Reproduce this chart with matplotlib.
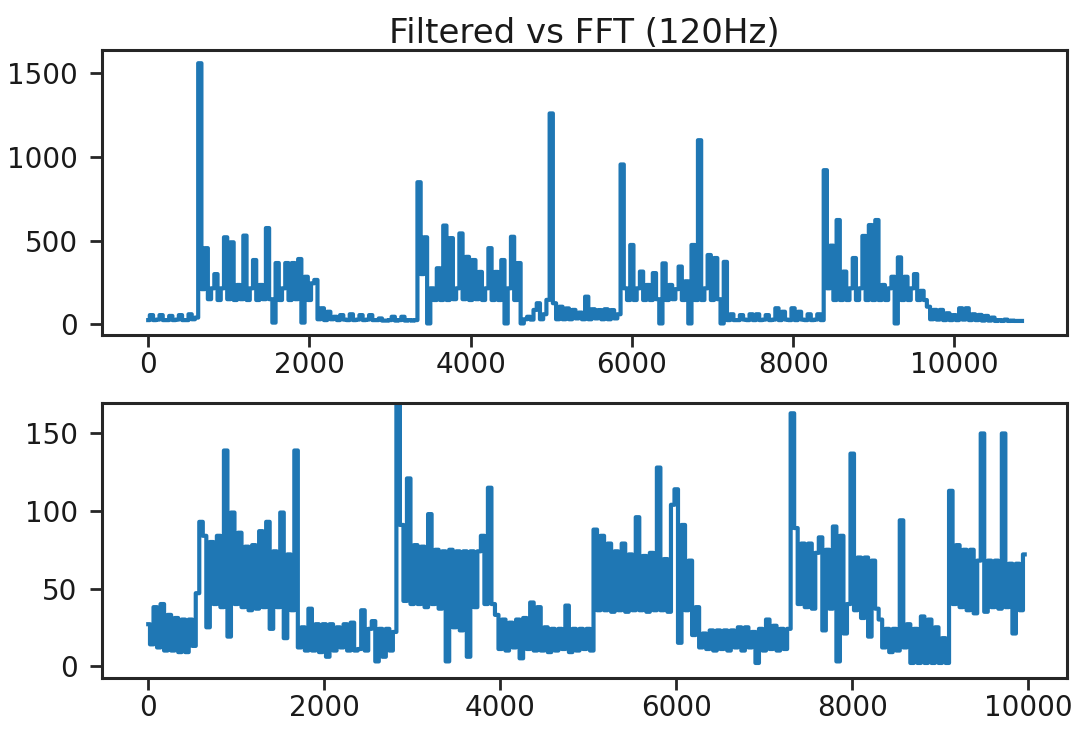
import numpy as np
import matplotlib
matplotlib.use('Agg')
import matplotlib.pyplot as plt

# sample spacing of the values
step = 40

# filtered signal (top), one value every 40 samples
filtered = [
    25, 55, 25, 28, 55, 25, 25, 50, 25, 28,
    55, 25, 25, 60, 30, 40, 1560, 210, 455, 150,
    215, 300, 145, 215, 520, 150, 490, 145, 235, 150,
    530, 145, 215, 384, 145, 235, 150, 575, 150, 10,
    366, 145, 215, 366, 145, 366, 150, 390, 10, 284,
    145, 245, 265, 30, 96, 25, 75, 30, 45, 25,
    55, 28, 25, 60, 25, 28, 55, 25, 28, 55,
    25, 25, 35, 22, 22, 25, 45, 22, 25, 45,
    22, 25, 22, 25, 849, 300, 520, 5, 215, 145,
    335, 145, 590, 145, 515, 150, 215, 543, 150, 403,
    145, 384, 150, 313, 145, 215, 455, 145, 313, 145,
    384, 5, 215, 523, 145, 366, 5, 30, 45, 28,
    86, 126, 30, 60, 146, 1260, 126, 30, 105, 30,
    95, 30, 86, 35, 70, 30, 165, 30, 90, 35,
    85, 30, 90, 30, 85, 35, 60, 955, 215, 145,
    474, 145, 215, 315, 145, 235, 145, 306, 150, 5,
    364, 145, 235, 150, 210, 345, 145, 257, 5, 474,
    145, 1100, 145, 215, 414, 145, 396, 150, 5, 373,
    25, 60, 25, 25, 55, 28, 25, 60, 25, 60,
    25, 28, 55, 25, 28, 96, 25, 75, 28, 25,
    96, 25, 75, 28, 25, 60, 25, 28, 60, 25,
    921, 215, 470, 145, 623, 145, 315, 145, 215, 396,
    145, 215, 528, 145, 593, 145, 623, 145, 235, 145,
    215, 284, 5, 400, 145, 284, 145, 215, 300, 145,
    200, 145, 105, 30, 86, 28, 86, 25, 66, 25,
    55, 25, 96, 28, 96, 25, 60, 25, 56, 22,
    50, 22, 40, 20, 25, 20, 28, 20, 22, 20,
    20, 20,
]

# FFT band amplitude (bottom), one value every 40 samples
fft_band = [
    27, 14, 38, 12, 40, 10, 33, 10, 31, 9,
    30, 9, 30, 13, 47, 93, 84, 25, 80, 40,
    84, 38, 139, 19, 99, 40, 86, 38, 77, 36,
    78, 37, 87, 38, 93, 24, 74, 38, 99, 18,
    72, 36, 139, 12, 25, 10, 37, 10, 27, 9,
    27, 6, 27, 10, 25, 12, 27, 10, 28, 10,
    11, 36, 10, 24, 29, 3, 24, 6, 24, 10,
    22, 170, 91, 42, 121, 40, 78, 40, 77, 38,
    98, 40, 75, 37, 74, 3, 75, 25, 74, 23,
    74, 6, 74, 38, 74, 84, 40, 115, 40, 33,
    11, 30, 10, 28, 12, 30, 5, 31, 11, 41,
    10, 38, 10, 25, 9, 24, 10, 24, 11, 39,
    9, 24, 10, 24, 11, 24, 10, 88, 36, 84,
    36, 79, 35, 74, 36, 79, 35, 72, 36, 96,
    36, 71, 35, 73, 36, 128, 36, 69, 35, 104,
    114, 15, 91, 36, 68, 20, 38, 12, 21, 11,
    23, 10, 23, 11, 23, 10, 23, 12, 25, 10,
    25, 12, 22, 2, 24, 10, 30, 11, 26, 10,
    24, 11, 24, 163, 89, 40, 79, 38, 79, 37,
    73, 83, 23, 75, 37, 90, 3, 84, 21, 40,
    137, 36, 70, 31, 70, 19, 68, 37, 30, 12,
    24, 9, 24, 10, 94, 12, 27, 2, 24, 2,
    32, 2, 30, 2, 25, 2, 18, 2, 113, 40,
    78, 38, 75, 36, 75, 34, 68, 150, 35, 68,
    38, 68, 37, 150, 38, 66, 21, 66, 36, 72,
]

title = 'Filtered vs FFT (120Hz)'
top_yticks = [0, 500, 1000, 1500]
bottom_yticks = [0, 50, 100, 150]
xticks = [0, 2000, 4000, 6000, 8000, 10000]

line_color = '#1f77b4'
edge_color = '#262626'

fig = plt.figure(figsize=(10.72, 7.30), dpi=100)
ax1 = fig.add_axes([0.0951, 0.5411, 0.9002, 0.3904])
ax2 = fig.add_axes([0.0951, 0.0708, 0.9002, 0.3775])

x1 = np.arange(len(filtered)) * step
x2 = np.arange(len(fft_band)) * step

# steps-mid: each reading is held over its 40 samples, so the dense
# up/down jumps fill the noise bands like the original trace
ax1.plot(x1, filtered, color=line_color, linewidth=3.0,
         drawstyle='steps-mid', snap=False)
ax2.plot(x2, fft_band, color=line_color, linewidth=3.0,
         drawstyle='steps-mid', snap=False)

ax1.set_xlim(-574, 11398)
ax1.set_ylim(-64, 1639)
ax2.set_xlim(-526, 10440)
ax2.set_ylim(-7.9, 169.8)

ax1.set_yticks(top_yticks)
ax2.set_yticks(bottom_yticks)
for ax in (ax1, ax2):
    ax.set_xticks(xticks)
    for s in ax.spines.values():
        s.set_linewidth(2.2)
        s.set_color(edge_color)
    ax.tick_params(axis='both', length=8.5, width=2.0, color=edge_color,
                   labelsize=20, labelcolor='#1a1a1a')
    ax.tick_params(axis='x', pad=3)
    ax.tick_params(axis='y', pad=9)

ax1.set_title(title, fontsize=24.5, pad=5, color='#1a1a1a')

fig.savefig('out.png', dpi=100)
